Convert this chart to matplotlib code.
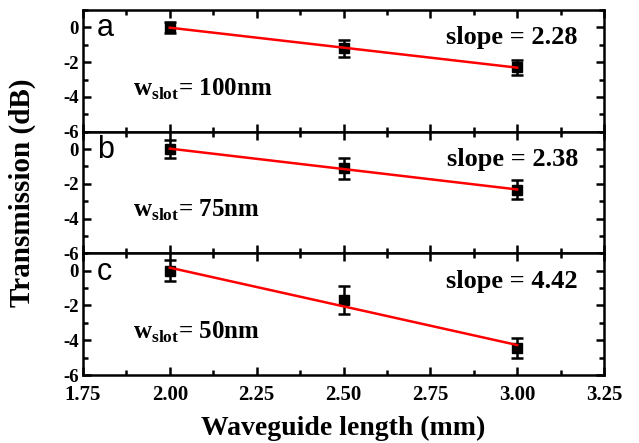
import numpy as np
import matplotlib
matplotlib.use("Agg")
import matplotlib.pyplot as plt
from matplotlib.ticker import MultipleLocator, FormatStrFormatter

# waveguide lengths (mm)
length = [2.0, 2.5, 3.0]

# transmission (dB) and error bars per slot width
panels = ["a", "b", "c"]
widths = ["100nm", "75nm", "50nm"]
slopes = ["2.28", "2.38", "4.42"]
trans_a = [0.0, -1.2, -2.3]
err_a = [0.3, 0.5, 0.45]
trans_b = [0.0, -1.1, -2.35]
err_b = [0.5, 0.6, 0.55]
trans_c = [0.0, -1.7, -4.45]
err_c = [0.6, 0.8, 0.6]
trans = [trans_a, trans_b, trans_c]
errs = [err_a, err_b, err_c]

plt.rcParams['font.family'] = ['Liberation Serif', 'DejaVu Serif']
plt.rcParams['font.weight'] = 'bold'
plt.rcParams['mathtext.fontset'] = 'custom'
plt.rcParams['mathtext.bf'] = 'Liberation Serif:bold'
plt.rcParams['mathtext.rm'] = 'Liberation Serif:bold'

fig = plt.figure(figsize=(6.39, 4.43), dpi=100)
left, right = 83 / 639, 604 / 639
bottom, top = 1 - 375 / 443, 1 - 10 / 443
h = (top - bottom) / 3

axes = []
for i in range(3):
    ax = fig.add_axes([left, top - (i + 1) * h, right - left, h])
    axes.append(ax)
    y = np.array(trans[i])
    x = np.array(length)
    ax.errorbar(x, y, yerr=errs[i], fmt='s', color='black', ms=7,
                elinewidth=1.8, capsize=4, capthick=1.8, zorder=3)
    p = np.polyfit(x, y, 1)
    ax.plot(x, np.polyval(p, x), color='red', lw=1.8, zorder=4)

    ax.set_xlim(1.75, 3.25)
    ax.set_ylim(-6, 1)
    ax.xaxis.set_major_locator(MultipleLocator(0.25))
    ax.xaxis.set_minor_locator(MultipleLocator(0.125))
    ax.xaxis.set_major_formatter(FormatStrFormatter('%.2f'))
    ax.yaxis.set_major_locator(MultipleLocator(2))
    ax.yaxis.set_minor_locator(MultipleLocator(1))
    ax.yaxis.set_major_formatter(FormatStrFormatter('%d'))
    ax.tick_params(which='both', direction='in', top=True, right=True,
                   width=1.8)
    ax.tick_params(axis='y', pad=3, labelsize=13.5)
    ax.tick_params(axis='x', pad=7, labelsize=15)
    ax.tick_params(which='major', length=6)
    ax.tick_params(which='minor', length=3.5)
    for s in ax.spines.values():
        s.set_linewidth(1.8)
    if i < 2:
        ax.tick_params(labelbottom=False)

    ax.text(0.027, 0.85, panels[i], transform=ax.transAxes, fontsize=22,
            family='Liberation Sans', fontweight='normal', va='center')
    ax.text(0.95, 0.77, 'slope = ' + slopes[i], transform=ax.transAxes,
            fontsize=19, ha='right', va='center')
    ax.text(0.096, 0.35, r'w$_{\mathbf{slot}}$= ' + widths[i],
            transform=ax.transAxes, fontsize=18, va='center')

axes[2].set_xlabel('Waveguide length (mm)', fontsize=20, fontweight='bold',
                   labelpad=8)
fig.text(0.035, (top + bottom) / 2, 'Transmission (dB)', rotation=90,
         fontsize=21, fontweight='bold', ha='center', va='center')

plt.savefig('out.png', dpi=100)
